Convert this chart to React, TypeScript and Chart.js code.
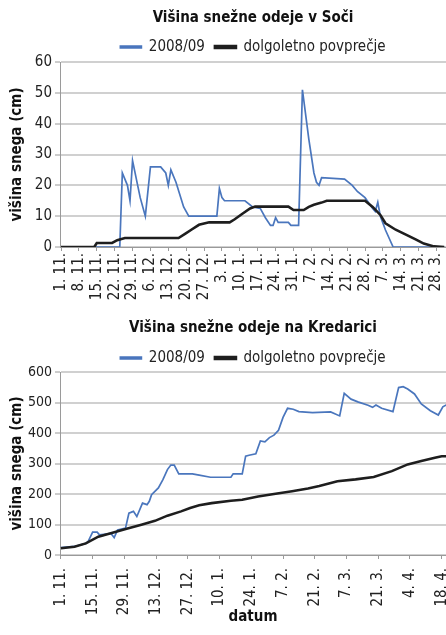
import React, { useEffect, useRef } from "react";
import { Chart, registerables } from "chart.js";

Chart.register(...registerables);

const FONT = "'Liberation Sans Narrow', 'DejaVu Sans Condensed', 'Arial Narrow', sans-serif";
const BLUE = "#4a76bd";
const BLACK = "#1e1e1e";

// ---------- Soča ----------
const sociTickLabels = [
  "1. 11.", "8. 11.", "15. 11.", "22. 11.", "29. 11.", "6. 12.", "13. 12.", "20. 12.",
  "27. 12.", "3. 1.", "10. 1.", "17. 1.", "24. 1.", "31. 1.", "7. 2.", "14. 2.",
  "21. 2.", "28. 2.", "7. 3.", "14. 3.", "21. 3.", "28. 3.",
];
const sociDays2008 = [
  0, 23, 24, 26, 27, 28, 30, 31, 33, 35, 39, 41, 42, 43, 45, 48, 50, 61, 62, 63, 64, 72, 75,
  78, 80, 82, 83, 84, 85, 89, 90, 93, 94.5, 97, 99, 100, 101, 102, 111, 114, 116, 119, 122,
  123, 124, 125, 127, 130, 150,
];
const sociSnow2008 = [
  0, 0, 24, 20, 15, 28, 20, 16, 10, 26, 26, 24, 20, 25, 21, 13, 10, 10, 19, 16, 15, 15, 13,
  12.5, 9.5, 7, 7, 9.5, 8, 8, 7, 7, 51, 35, 24, 21, 20, 22.5, 22, 20, 18, 16, 12.5,
  11.5, 14.5, 10, 5.5, 0, 0,
];
const sociDaysAvg = [
  0, 13, 14, 20, 22, 25, 46, 49, 51, 54, 58, 66, 68, 71, 74, 76, 89, 91, 95, 97, 99, 102,
  104, 119, 122, 125, 127, 131, 135, 139, 142, 146, 150,
];
const sociSnowAvg = [
  0, 0, 1.3, 1.3, 2.2, 2.9, 2.9, 4.5, 5.6, 7.2, 8, 8, 9, 10.8, 12.5, 13.1, 13.1, 12, 12, 13,
  13.7, 14.4, 15, 15, 13, 10.4, 7.7, 5.6, 4, 2.4, 1.1, 0.2, 0,
];
const sociYTicks = [0, 10, 20, 30, 40, 50, 60];

// ---------- Kredarica ----------
const kredTickLabels = [
  "1. 11.", "15. 11.", "29. 11.", "13. 12.", "27. 12.", "10. 1.", "24. 1.", "7. 2.",
  "21. 2.", "7. 3.", "21. 3.", "4. 4.", "18. 4.",
];
const kredDays2008 = [
  0, 6, 11, 12, 14, 16, 17, 19, 22, 23.5, 25, 28.5, 30, 32, 33.5, 36, 38, 39, 40, 43, 45, 47,
  48.5, 50, 52, 55, 58, 61, 66, 75, 76, 80, 81.5, 83, 86, 88, 90, 92, 94, 96, 98, 100, 102.5,
  105, 111, 119, 123, 125, 128, 131, 135.5, 137.5, 139, 141.5, 146.5, 149, 151, 153, 156,
  159, 163, 166.5, 168.5, 170,
];
const kredSnow2008 = [
  24, 28, 38, 44, 75, 75, 66, 68, 71, 57, 82, 88, 137, 143, 126, 170, 165, 176, 198, 220,
  247, 280, 295, 295, 266, 266, 266, 262, 255, 255, 266, 266, 324, 327, 332, 374, 371, 385,
  393, 409, 451, 481, 478, 470, 467, 469, 456, 530, 511, 502, 491, 484, 492, 481, 470, 549,
  552, 544, 528, 495, 473, 459, 486, 492,
];
const kredDaysAvg = [
  0, 6, 11, 16.5, 22, 29, 35.5, 41.5, 47, 53, 57, 61, 66.5, 75, 80, 87, 94, 102, 109, 114,
  122, 130, 138, 146, 153, 159, 165, 168, 170,
];
const kredSnowAvg = [
  22, 27, 38, 60, 71, 86, 99, 112, 129, 143, 154, 163, 170, 178, 181, 192, 200, 209, 218,
  226, 242, 248, 256, 275, 297, 308, 319, 324, 324,
];
const kredYTicks = [0, 100, 200, 300, 400, 500, 600];

const legendLabels = ["2008/09", "dolgoletno povprečje"];

function legendTrim(amount: number) {
  return {
    id: "legendTrim",
    afterInit(chart: any) {
      const lg = chart.legend;
      if (!lg) return;
      const fit = lg.fit.bind(lg);
      lg.fit = () => {
        fit();
        lg.height = Math.max(0, lg.height - amount);
      };
    },
  };
}

type Cfg = {
  title: string;
  tickLabels: string[];
  tickStep: number;
  xMin: number;
  xMax: number;
  yTicks: number[];
  yFont: number;
  days2008: number[];
  snow2008: number[];
  daysAvg: number[];
  snowAvg: number[];
  titlePadTop: number;
  titlePadBottom: number;
  legendPad: number;
  trim: number;
  xHeight: number;
  xTickPad: number;
  xTitle?: string;
};

function buildChart(canvas: HTMLCanvasElement, c: Cfg) {
  const pts = (xs: number[], ys: number[]) => xs.map((x, i) => ({ x, y: ys[i] }));
  return new Chart(canvas, {
    type: "line",
    data: {
      datasets: [
        {
          label: legendLabels[0],
          data: pts(c.days2008, c.snow2008),
          borderColor: BLUE,
          backgroundColor: BLUE,
          borderWidth: 1.7,
          pointRadius: 0,
          tension: 0,
          order: 1,
        },
        {
          label: legendLabels[1],
          data: pts(c.daysAvg, c.snowAvg),
          borderColor: BLACK,
          backgroundColor: BLACK,
          borderWidth: 2.6,
          pointRadius: 0,
          tension: 0,
          order: 0,
        },
      ],
    },
    options: {
      animation: false,
      responsive: true,
      maintainAspectRatio: false,
      layout: { padding: 0 },
      plugins: {
        title: {
          display: true,
          fullSize: false,
          text: c.title,
          color: "#111",
          font: { family: FONT, size: 15, weight: "bold", lineHeight: 1.2 },
          padding: { top: c.titlePadTop, bottom: c.titlePadBottom },
        },
        legend: {
          display: true,
          fullSize: false,
          labels: {
            color: "#222",
            font: { family: FONT, size: 15 },
            boxWidth: 21,
            boxHeight: 2,
            padding: c.legendPad,
            sort: (a: any, b: any) => a.datasetIndex - b.datasetIndex,
          },
        },
        tooltip: { enabled: false },
      },
      scales: {
        x: {
          type: "linear",
          min: c.xMin,
          max: c.xMax,
          afterBuildTicks: (s: any) => {
            s.ticks = c.tickLabels.map((_, i) => ({ value: i * c.tickStep }));
          },
          afterFit: (s: any) => {
            s.height = c.xHeight;
            s.paddingLeft = 0;
            s.paddingRight = 0;
          },
          ticks: {
            autoSkip: false,
            maxRotation: 90,
            minRotation: 90,
            padding: c.xTickPad,
            color: "#222",
            font: { family: FONT, size: 15 },
            callback: (_v: any, i: number) => c.tickLabels[i],
          },
          grid: {
            drawOnChartArea: false,
            drawTicks: true,
            tickLength: 4,
            color: "#9a9a9a",
          },
          border: { display: true, color: "#9a9a9a", width: 1 },
          title: c.xTitle
            ? {
                display: true,
                text: c.xTitle,
                color: "#111",
                font: { family: FONT, size: 15, weight: "bold", lineHeight: 1.2 },
                padding: { top: 0, bottom: 9 },
              }
            : { display: false },
        },
        y: {
          min: c.yTicks[0],
          max: c.yTicks[c.yTicks.length - 1],
          afterBuildTicks: (s: any) => {
            s.ticks = c.yTicks.map((v) => ({ value: v }));
          },
          afterFit: (s: any) => {
            s.width = 60;
          },
          ticks: {
            padding: 3,
            color: "#222",
            font: { family: FONT, size: c.yFont },
          },
          grid: {
            color: "#d0d0d0",
            lineWidth: 2,
            tickLength: 5,
            tickColor: "#9a9a9a",
            tickWidth: 1,
          },
          border: { display: true, color: "#9a9a9a", width: 1 },
          title: {
            display: true,
            text: "višina snega (cm)",
            color: "#111",
            font: { family: FONT, size: 15, weight: "bold", lineHeight: 1.2 },
            padding: { top: 8, bottom: 0 },
          },
        },
      },
    },
    plugins: [legendTrim(c.trim)],
  } as any);
}

function ChartBox({ cfg, height }: { cfg: Cfg; height: number }) {
  const ref = useRef<HTMLCanvasElement | null>(null);
  useEffect(() => {
    if (!ref.current) return;
    const ch = buildChart(ref.current, cfg);
    return () => ch.destroy();
  }, []);
  return (
    <div style={{ position: "relative", width: 446, height }}>
      <canvas ref={ref} />
    </div>
  );
}

const sociCfg: Cfg = {
  title: "Višina snežne odeje v Soči",
  tickLabels: sociTickLabels,
  tickStep: 7,
  xMin: -0.4,
  xMax: 150.7,
  yTicks: sociYTicks,
  yFont: 15,
  days2008: sociDays2008,
  snow2008: sociSnow2008,
  daysAvg: sociDaysAvg,
  snowAvg: sociSnowAvg,
  titlePadTop: 9,
  titlePadBottom: 2.5,
  legendPad: 10,
  trim: 2.5,
  xHeight: 53,
  xTickPad: 2,
};

const kredCfg: Cfg = {
  title: "Višina snežne odeje na Kredarici",
  tickLabels: kredTickLabels,
  tickStep: 14,
  xMin: -0.4,
  xMax: 169.9,
  yTicks: kredYTicks,
  yFont: 14,
  days2008: kredDays2008,
  snow2008: kredSnow2008,
  daysAvg: kredDaysAvg,
  snowAvg: kredSnowAvg,
  titlePadTop: 19,
  titlePadBottom: 3.5,
  legendPad: 10,
  trim: 3.5,
  xHeight: 80,
  xTickPad: 9,
  xTitle: "datum",
};

export default function App() {
  return (
    <div
      style={{
        position: "fixed",
        left: 0,
        top: 0,
        width: 446,
        height: 635,
        background: "#fff",
        overflow: "hidden",
      }}
    >
      <ChartBox cfg={sociCfg} height={300} />
      <ChartBox cfg={kredCfg} height={335} />
    </div>
  );
}
